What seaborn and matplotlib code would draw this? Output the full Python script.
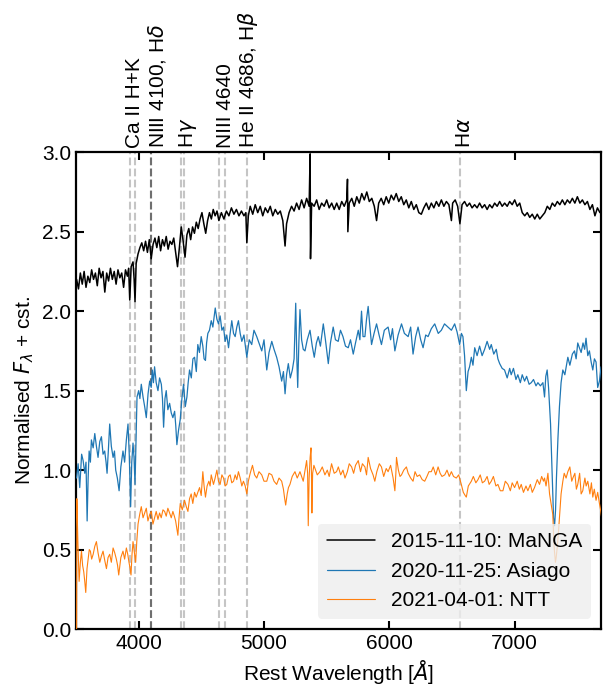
import numpy as np
import pandas as pd
import matplotlib
matplotlib.use("Agg")
import matplotlib.pyplot as plt
import seaborn as sns

# --- spectra (rest wavelength in Angstrom, normalised flux + offset) ---
manga_wl = [3505, 3520, 3535, 3550, 3565, 3580, 3595, 3610, 3625, 3640, 3655, 3670, 3685, 3700, 3715,
            3730, 3745, 3760, 3775, 3790, 3805, 3820, 3835, 3850, 3865, 3880, 3895, 3910, 3920, 3929,
            3940, 3955, 3964, 3971, 3980, 3995, 4010, 4025, 4040, 4055, 4070, 4085, 4100, 4115, 4130,
            4145, 4160, 4175, 4190, 4205, 4220, 4235, 4250, 4265, 4280, 4295, 4310, 4325, 4340, 4355,
            4370, 4385, 4400, 4415, 4430, 4445, 4460, 4475, 4490, 4505, 4520, 4535, 4550, 4565, 4580,
            4595, 4610, 4625, 4640, 4660, 4680, 4700, 4720, 4740, 4760, 4780, 4800, 4820, 4840, 4855,
            4863, 4875, 4890, 4910, 4930, 4950, 4970, 4990, 5010, 5030, 5050, 5070, 5090, 5110, 5130,
            5150, 5168, 5180, 5200, 5220, 5240, 5260, 5280, 5300, 5320, 5340, 5360, 5368, 5371, 5380,
            5400, 5420, 5440, 5460, 5480, 5500, 5520, 5540, 5560, 5580, 5600, 5620, 5640, 5660, 5666,
            5669, 5680, 5700, 5720, 5740, 5760, 5780, 5800, 5820, 5840, 5860, 5880, 5898, 5915, 5935,
            5955, 5975, 5995, 6015, 6035, 6055, 6075, 6095, 6115, 6135, 6155, 6175, 6195, 6215, 6235,
            6255, 6275, 6295, 6315, 6335, 6355, 6375, 6395, 6415, 6435, 6455, 6475, 6495, 6505, 6525,
            6545, 6563, 6580, 6600, 6620, 6640, 6660, 6680, 6700, 6720, 6740, 6760, 6780, 6800, 6820,
            6840, 6860, 6880, 6900, 6920, 6940, 6960, 6980, 7000, 7020, 7040, 7060, 7080, 7100, 7120,
            7140, 7160, 7180, 7200, 7220, 7240, 7260, 7280, 7300, 7320, 7340, 7360, 7380, 7400, 7420,
            7440, 7460, 7480, 7500, 7520, 7540, 7560, 7580, 7600, 7620, 7640, 7660, 7680, 7695]
manga_flux = [2.20, 2.14, 2.24, 2.17, 2.25, 2.15, 2.22, 2.18, 2.26, 2.20, 2.24, 2.16, 2.27, 2.21, 2.25,
              2.12, 2.24, 2.19, 2.27, 2.20, 2.25, 2.17, 2.26, 2.21, 2.24, 2.15, 2.26, 2.22, 2.27, 2.07,
              2.28, 2.31, 2.20, 2.06, 2.30, 2.36, 2.40, 2.43, 2.38, 2.44, 2.37, 2.45, 2.33, 2.42, 2.46,
              2.40, 2.47, 2.38, 2.45, 2.41, 2.47, 2.39, 2.44, 2.42, 2.46, 2.37, 2.28, 2.40, 2.53, 2.44,
              2.34, 2.48, 2.52, 2.45, 2.53, 2.49, 2.56, 2.52, 2.58, 2.62, 2.55, 2.49, 2.57, 2.62, 2.58,
              2.64, 2.60, 2.63, 2.57, 2.62, 2.58, 2.63, 2.60, 2.65, 2.61, 2.64, 2.60, 2.63, 2.60, 2.62,
              2.43, 2.60, 2.66, 2.61, 2.67, 2.62, 2.66, 2.60, 2.65, 2.62, 2.66, 2.60, 2.64, 2.61, 2.63,
              2.57, 2.41, 2.55, 2.62, 2.66, 2.63, 2.68, 2.64, 2.70, 2.65, 2.71, 2.66, 2.99, 2.33, 2.68,
              2.66, 2.70, 2.64, 2.68, 2.66, 2.70, 2.65, 2.68, 2.64, 2.68, 2.64, 2.69, 2.66, 2.70, 2.83,
              2.50, 2.68, 2.71, 2.66, 2.72, 2.68, 2.74, 2.70, 2.75, 2.69, 2.71, 2.66, 2.57, 2.68, 2.71,
              2.67, 2.72, 2.68, 2.73, 2.70, 2.74, 2.69, 2.72, 2.67, 2.70, 2.65, 2.69, 2.64, 2.67, 2.62,
              2.61, 2.65, 2.68, 2.64, 2.68, 2.65, 2.69, 2.66, 2.70, 2.66, 2.69, 2.67, 2.57, 2.68, 2.70,
              2.66, 2.55, 2.67, 2.69, 2.66, 2.68, 2.65, 2.67, 2.65, 2.68, 2.65, 2.67, 2.64, 2.67, 2.65,
              2.68, 2.66, 2.69, 2.66, 2.68, 2.66, 2.69, 2.67, 2.70, 2.66, 2.68, 2.62, 2.60, 2.62, 2.59,
              2.61, 2.58, 2.61, 2.58, 2.60, 2.62, 2.66, 2.64, 2.68, 2.66, 2.69, 2.67, 2.70, 2.67, 2.70,
              2.68, 2.71, 2.68, 2.72, 2.68, 2.70, 2.67, 2.69, 2.64, 2.67, 2.60, 2.65, 2.62, 2.64]

asiago_wl = [3505, 3517, 3530, 3545, 3557, 3570, 3580, 3589, 3597, 3605, 3615, 3623, 3637, 3650, 3663,
             3676, 3690, 3703, 3716, 3729, 3740, 3748, 3758, 3769, 3782, 3796, 3807, 3817, 3830, 3844,
             3858, 3875, 3888, 3902, 3915, 3925, 3936, 3945, 3955, 3963, 3971, 3979, 3987, 4000, 4010,
             4021, 4035, 4048, 4061, 4075, 4088, 4100, 4109, 4118, 4127, 4140, 4154, 4167, 4181, 4190,
             4199, 4210, 4220, 4233, 4247, 4260, 4273, 4287, 4296, 4305, 4318, 4332, 4345, 4358, 4372,
             4385, 4395, 4406, 4420, 4433, 4446, 4460, 4472, 4485, 4499, 4512, 4522, 4533, 4542, 4552,
             4565, 4579, 4592, 4611, 4624, 4637, 4650, 4664, 4677, 4690, 4703, 4717, 4730, 4743, 4757,
             4770, 4783, 4796, 4810, 4823, 4840, 4863, 4882, 4902, 4920, 4942, 4960, 4982, 5000, 5022,
             5040, 5062, 5080, 5101, 5120, 5141, 5155, 5168, 5180, 5194, 5210, 5226, 5240, 5253, 5262,
             5269, 5278, 5287, 5300, 5313, 5327, 5345, 5367, 5385, 5401, 5418, 5433, 5450, 5473, 5490,
             5513, 5530, 5552, 5570, 5592, 5610, 5630, 5650, 5672, 5690, 5712, 5730, 5752, 5765, 5778,
             5790, 5805, 5818, 5831, 5845, 5858, 5878, 5898, 5918, 5937, 5960, 5990, 6010, 6025, 6044,
             6070, 6097, 6120, 6150, 6170, 6189, 6210, 6229, 6250, 6269, 6290, 6309, 6335, 6362, 6390,
             6415, 6440, 6468, 6495, 6521, 6540, 6561, 6575, 6587, 6600, 6614, 6628, 6640, 6654, 6667,
             6681, 6700, 6720, 6740, 6760, 6780, 6800, 6813, 6833, 6853, 6866, 6880, 6900, 6919, 6940,
             6960, 6972, 6990, 7010, 7025, 7045, 7060, 7079, 7095, 7115, 7132, 7150, 7170, 7185, 7205,
             7225, 7238, 7248, 7259, 7270, 7286, 7300, 7310, 7318, 7326, 7333, 7345, 7357, 7370, 7384,
             7400, 7424, 7440, 7460, 7477, 7490, 7503, 7516, 7530, 7545, 7558, 7569, 7583, 7596, 7610,
             7623, 7636, 7649, 7662, 7676, 7689]
asiago_flux = [0.95, 1.04, 0.89, 1.10, 1.06, 0.98, 1.05, 0.68, 0.95, 1.12, 1.05, 1.19, 1.14, 1.23, 1.15,
               1.08, 1.18, 1.21, 1.10, 1.12, 1.05, 0.98, 1.12, 1.29, 1.15, 1.08, 1.12, 1.00, 0.95, 0.87,
               1.02, 1.12, 1.05, 1.19, 1.29, 1.10, 0.77, 1.05, 1.17, 1.08, 0.91, 1.20, 1.46, 1.50, 1.45,
               1.54, 1.46, 1.40, 1.33, 1.48, 1.56, 1.52, 1.63, 1.55, 1.65, 1.55, 1.50, 1.58, 1.54, 1.45,
               1.27, 1.45, 1.50, 1.38, 1.42, 1.36, 1.33, 1.37, 1.28, 1.16, 1.25, 1.32, 1.45, 1.54, 1.40,
               1.46, 1.55, 1.63, 1.58, 1.70, 1.71, 1.62, 1.79, 1.74, 1.84, 1.78, 1.70, 1.69, 1.80, 1.86,
               1.88, 1.94, 1.90, 2.02, 1.95, 1.92, 1.97, 1.88, 1.90, 1.81, 1.85, 1.77, 1.86, 1.94, 1.86,
               1.84, 1.90, 1.94, 1.86, 1.81, 1.85, 1.71, 1.82, 1.79, 1.88, 1.84, 1.80, 1.75, 1.82, 1.63,
               1.74, 1.81, 1.76, 1.71, 1.65, 1.56, 1.62, 1.48, 1.60, 1.67, 1.58, 1.63, 1.70, 2.05, 1.70,
               1.52, 1.80, 2.01, 1.82, 1.76, 1.75, 1.82, 1.88, 1.78, 1.71, 1.80, 1.84, 1.78, 1.92, 1.82,
               1.67, 1.80, 1.90, 1.82, 1.81, 1.88, 1.84, 1.78, 1.77, 1.82, 1.73, 1.80, 1.88, 1.82, 2.00,
               1.84, 1.84, 1.95, 2.03, 1.90, 1.79, 1.86, 1.92, 1.85, 1.79, 1.88, 1.90, 1.82, 1.89, 1.75,
               1.85, 1.92, 1.86, 1.84, 1.90, 1.73, 1.84, 1.90, 1.82, 1.77, 1.85, 1.84, 1.89, 1.92, 1.86,
               1.88, 1.92, 1.90, 1.88, 1.92, 1.87, 1.79, 1.86, 1.84, 1.72, 1.50, 1.62, 1.65, 1.71, 1.66,
               1.77, 1.72, 1.78, 1.72, 1.76, 1.81, 1.76, 1.79, 1.73, 1.76, 1.70, 1.67, 1.64, 1.63, 1.58,
               1.64, 1.60, 1.64, 1.57, 1.60, 1.55, 1.60, 1.56, 1.59, 1.54, 1.55, 1.57, 1.53, 1.55, 1.53,
               1.55, 1.46, 1.59, 1.63, 1.52, 1.29, 0.95, 0.70, 0.65, 0.75, 0.95, 1.20, 1.40, 1.55, 1.63,
               1.60, 1.71, 1.66, 1.73, 1.75, 1.70, 1.80, 1.77, 1.74, 1.80, 1.76, 1.83, 1.72, 1.75, 1.68,
               1.63, 1.70, 1.68, 1.52, 1.56, 1.65]

ntt_wl = [3505, 3507, 3515, 3525, 3535, 3544, 3553, 3562, 3570, 3578, 3588, 3597, 3606, 3615, 3625,
          3637, 3650, 3663, 3676, 3690, 3703, 3716, 3730, 3743, 3756, 3769, 3782, 3796, 3809, 3822,
          3832, 3841, 3858, 3875, 3888, 3902, 3913, 3923, 3932, 3939, 3947, 3955, 3966, 3976, 3985,
          3995, 4008, 4021, 4035, 4048, 4061, 4074, 4088, 4101, 4114, 4127, 4140, 4154, 4167, 4180,
          4194, 4207, 4220, 4233, 4247, 4260, 4273, 4285, 4295, 4305, 4313, 4322, 4332, 4348, 4366,
          4380, 4393, 4406, 4419, 4432, 4446, 4459, 4472, 4486, 4499, 4512, 4522, 4533, 4546, 4560,
          4570, 4579, 4597, 4610, 4624, 4637, 4650, 4664, 4677, 4690, 4703, 4717, 4730, 4743, 4757,
          4770, 4783, 4796, 4810, 4823, 4836, 4850, 4863, 4875, 4890, 4908, 4925, 4942, 4960, 4982,
          5000, 5022, 5040, 5062, 5080, 5101, 5120, 5141, 5155, 5165, 5173, 5185, 5195, 5207, 5225,
          5247, 5265, 5287, 5300, 5313, 5328, 5340, 5348, 5353, 5360, 5368, 5375, 5379, 5382, 5388,
          5398, 5407, 5425, 5446, 5465, 5486, 5505, 5520, 5539, 5560, 5579, 5593, 5612, 5630, 5646,
          5665, 5680, 5699, 5715, 5730, 5752, 5770, 5785, 5805, 5818, 5831, 5850, 5870, 5884, 5900,
          5920, 5937, 5955, 5975, 5990, 6010, 6030, 6044, 6052, 6057, 6072, 6085, 6097, 6115, 6136,
          6150, 6170, 6189, 6205, 6222, 6242, 6262, 6282, 6300, 6316, 6335, 6350, 6370, 6389, 6405,
          6420, 6442, 6460, 6478, 6495, 6512, 6534, 6553, 6574, 6590, 6605, 6614, 6630, 6654, 6670,
          6690, 6707, 6725, 6742, 6760, 6780, 6796, 6813, 6830, 6850, 6866, 6885, 6906, 6925, 6946,
          6965, 6980, 6999, 7020, 7037, 7052, 7070, 7090, 7105, 7125, 7140, 7158, 7180, 7198, 7215,
          7230, 7238, 7250, 7265, 7278, 7292, 7304, 7312, 7317, 7325, 7331, 7340, 7350, 7357, 7370,
          7384, 7395, 7410, 7424, 7440, 7455, 7464, 7480, 7492, 7503, 7518, 7530, 7543, 7560, 7570,
          7583, 7600, 7612, 7623, 7635, 7649, 7662, 7676, 7685, 7694]
ntt_flux = [0.00, 0.82, 0.55, 0.30, 0.42, 0.49, 0.40, 0.36, 0.30, 0.23, 0.38, 0.44, 0.50, 0.49, 0.44,
            0.47, 0.52, 0.55, 0.48, 0.42, 0.46, 0.49, 0.43, 0.38, 0.45, 0.47, 0.42, 0.51, 0.48, 0.44,
            0.40, 0.34, 0.45, 0.49, 0.44, 0.51, 0.47, 0.42, 0.38, 0.34, 0.47, 0.55, 0.48, 0.42, 0.55,
            0.66, 0.72, 0.77, 0.70, 0.73, 0.76, 0.68, 0.72, 0.74, 0.66, 0.70, 0.74, 0.69, 0.73, 0.70,
            0.75, 0.74, 0.71, 0.76, 0.73, 0.70, 0.74, 0.71, 0.68, 0.63, 0.59, 0.70, 0.79, 0.75, 0.81,
            0.77, 0.74, 0.82, 0.85, 0.79, 0.86, 0.83, 0.86, 0.89, 0.84, 0.99, 0.90, 0.83, 0.90, 0.93,
            0.90, 0.97, 0.91, 0.95, 1.00, 0.93, 0.91, 0.97, 0.95, 0.90, 0.91, 0.96, 0.97, 0.92, 0.93,
            0.97, 0.94, 0.99, 0.95, 0.90, 0.93, 0.90, 0.85, 0.93, 0.98, 1.03, 0.97, 0.95, 0.99, 0.97,
            0.93, 0.93, 0.98, 0.97, 0.93, 0.91, 0.95, 0.93, 0.88, 0.82, 0.78, 0.85, 0.89, 0.91, 0.96,
            0.99, 0.95, 0.99, 0.96, 0.93, 1.00, 1.06, 0.98, 0.65, 0.95, 1.08, 1.14, 0.95, 0.73, 0.98,
            1.03, 1.01, 0.97, 0.99, 1.02, 0.97, 1.00, 0.96, 1.04, 0.98, 0.99, 1.02, 0.97, 1.00, 0.95,
            0.99, 1.04, 1.02, 0.98, 1.03, 1.06, 0.99, 1.04, 1.02, 0.97, 1.08, 1.01, 0.97, 0.93, 0.99,
            1.04, 1.02, 0.96, 1.01, 0.99, 1.03, 0.95, 0.87, 0.98, 1.08, 1.00, 0.96, 0.97, 1.00, 1.02,
            0.98, 0.95, 0.93, 0.99, 0.96, 0.97, 0.94, 0.93, 0.96, 0.99, 0.99, 1.02, 0.97, 1.02, 0.98,
            0.96, 0.97, 1.00, 0.96, 0.99, 0.96, 0.95, 0.97, 0.91, 0.86, 0.84, 0.83, 0.90, 0.93, 0.96,
            0.92, 0.94, 0.97, 0.92, 0.93, 0.96, 0.91, 0.93, 0.96, 0.90, 0.91, 0.87, 0.87, 0.93, 0.91,
            0.87, 0.92, 0.89, 0.93, 0.88, 0.91, 0.86, 0.90, 0.87, 0.91, 0.86, 0.89, 0.94, 0.91, 0.96,
            0.93, 0.95, 0.90, 0.98, 0.85, 0.78, 0.72, 0.55, 0.49, 0.42, 0.45, 0.52, 0.62, 0.70, 0.85,
            0.93, 0.98, 0.95, 0.99, 1.02, 0.93, 0.95, 0.98, 0.88, 0.91, 0.98, 0.85, 0.87, 0.95, 0.90,
            0.93, 0.85, 0.92, 0.83, 0.88, 0.81, 0.86, 0.79, 0.75, 0.70]

# line markers
line_wl = [3934, 3968, 4100, 4101, 4340, 4363, 4640, 4686, 4861, 6563]
line_col = ["0.55", "0.55", "0.25", "0.25", "0.55", "0.55", "0.55", "0.55", "0.55", "0.55"]
label_wl = [3968, 4150, 4392, 4694, 4873, 6601]
label_txt = ["Ca II H+K", "NIII 4100, H$\\delta$", "H$\\gamma$", "NIII 4640",
             "He II 4686, H$\\beta$", "H$\\alpha$"]

FS = 15

sns.set_style("ticks")
plt.rcParams["font.family"] = ["Liberation Sans", "DejaVu Sans"]
plt.rcParams["mathtext.fontset"] = "dejavusans"
plt.rcParams["font.size"] = FS
for k in ["text.color", "axes.labelcolor", "xtick.color", "ytick.color", "axes.edgecolor"]:
    plt.rcParams[k] = "black"

fig = plt.figure(figsize=(6.03, 6.92), dpi=100)
ax = fig.add_axes([0.126, 0.091, 0.871, 0.689])

for wl, col in zip(line_wl, line_col):
    ax.axvline(wl, color=col, ls="--", lw=1.5, alpha=0.5, zorder=1)

sns.lineplot(x=manga_wl, y=manga_flux, ax=ax, color="black", lw=1.1,
             estimator=None, sort=False, label="2015-11-10: MaNGA", zorder=3)
sns.lineplot(x=asiago_wl, y=asiago_flux, ax=ax, color="#1f77b4", lw=0.9,
             estimator=None, sort=False, label="2020-11-25: Asiago", zorder=3)
sns.lineplot(x=ntt_wl, y=ntt_flux, ax=ax, color="#ff7f0e", lw=0.8,
             estimator=None, sort=False, label="2021-04-01: NTT", zorder=3)

for x, t in zip(label_wl, label_txt):
    ax.annotate(t, xy=(x, 3.0), xycoords="data", xytext=(0, 3), textcoords="offset points",
                rotation=90, ha="center", va="bottom", fontsize=FS, annotation_clip=False)

ax.set_xlim(3500, 7690)
ax.set_ylim(0, 3.0)
ax.set_xticks([4000, 5000, 6000, 7000])
ax.set_yticks([0.0, 0.5, 1.0, 1.5, 2.0, 2.5, 3.0])
ax.set_xlabel("Rest Wavelength [$\\AA$]", fontsize=FS)
ax.set_ylabel("Normalised $F_\\lambda$ + cst.", fontsize=FS)
ax.tick_params(direction="in", top=True, right=True, length=6, width=1.5, labelsize=FS,
               colors="black")
for s in ax.spines.values():
    s.set_linewidth(1.6)
    s.set_color("black")

leg = ax.legend(loc="lower right", fontsize=FS, frameon=True, facecolor="#eeeeee",
                edgecolor="none", framealpha=0.8, handlelength=2.3)

fig.savefig("out.png", dpi=100)
